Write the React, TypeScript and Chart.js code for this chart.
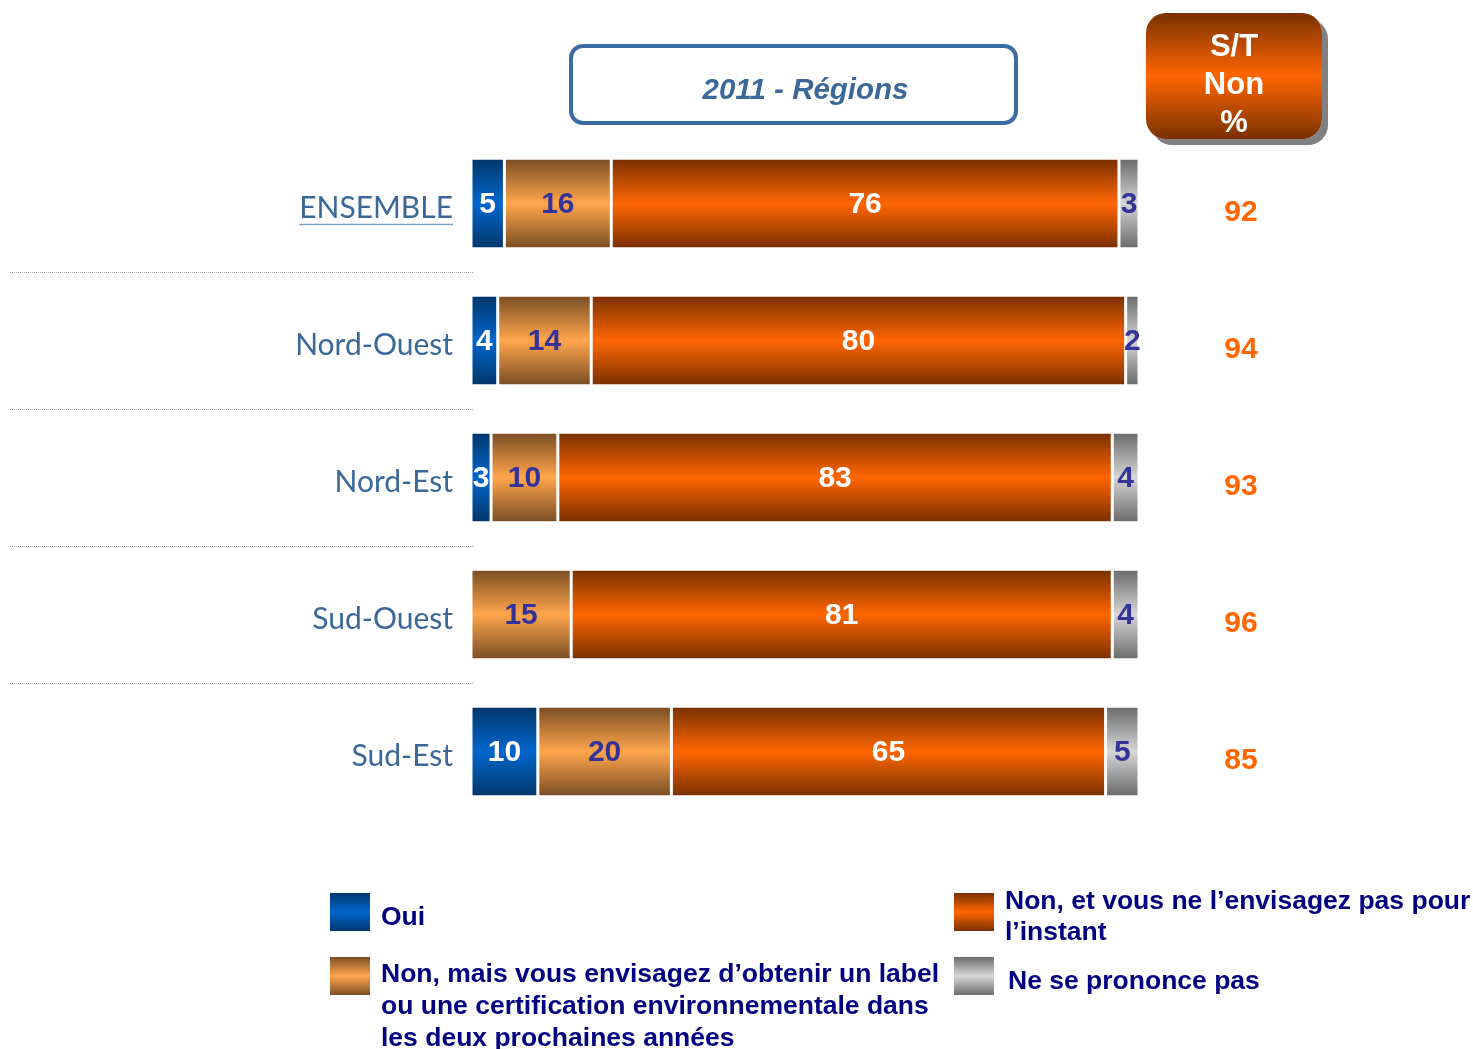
import React, { useEffect, useRef } from "react";
import { Chart, registerables } from "chart.js";

Chart.register(...registerables);

const categories = ["ENSEMBLE", "Nord-Ouest", "Nord-Est", "Sud-Ouest", "Sud-Est"];
const ouiValues = [5, 4, 3, 0, 10];
const nonEnvisageValues = [16, 14, 10, 15, 20];
const nonPasValues = [76, 80, 83, 81, 65];
const nspValues = [3, 2, 4, 4, 5];
const stNonValues = [92, 94, 93, 96, 85];
const seriesLabels = [
  "Oui",
  "Non, mais vous envisagez d’obtenir un label ou une certification environnementale dans les deux prochaines années",
  "Non, et vous ne l’envisagez pas pour l’instant",
  "Ne se prononce pas",
];
const legendLines = [
  ["Oui"],
  ["Non, mais vous envisagez d’obtenir un label", "ou une certification environnementale dans", "les deux prochaines années"],
  ["Non, et vous ne l’envisagez pas pour", "l’instant"],
  ["Ne se prononce pas"],
];
const titleText = "2011 - Régions";
const stHeader = ["S/T", "Non", "%"];

const gradients = [
  ["#00376c", "#0066cc", "#00376c"],
  ["#7b4e24", "#ffa64d", "#7b4e24"],
  ["#7a3000", "#ff6600", "#7a3000"],
  ["#6c6c6c", "#d6d6d6", "#6c6c6c"],
];
const labelColors = ["#ffffff", "#333399", "#ffffff", "#333399"];
const ARIAL = '"Liberation Sans", Arial, sans-serif';
const BAR_HALF = 44;
const TICK_PAD = 10;
const LABEL_OFFSET = 5;

function makeBg(idx: number) {
  return (c: any) => {
    const chart = c.chart;
    const ys = chart.scales && chart.scales.y;
    const g3 = gradients[idx];
    if (!ys || c.dataIndex === undefined || !chart.chartArea) return g3[1];
    const yc = ys.getPixelForValue(c.dataIndex);
    const g = chart.ctx.createLinearGradient(0, yc - BAR_HALF, 0, yc + BAR_HALF);
    g.addColorStop(0, g3[0]);
    g.addColorStop(0.5, g3[1]);
    g.addColorStop(1, g3[2]);
    return g;
  };
}

const overlayPlugin = {
  id: "overlay",
  beforeDatasetsDraw(chart: any) {
    const { ctx } = chart;
    const ys = chart.scales.y;
    ctx.save();
    ctx.strokeStyle = "#a8a8a8";
    ctx.lineWidth = 1;
    ctx.setLineDash([1, 1]);
    for (let i = 0; i < categories.length - 1; i++) {
      const y = Math.round((ys.getPixelForValue(i) + ys.getPixelForValue(i + 1)) / 2) + 0.5;
      ctx.beginPath();
      ctx.moveTo(10, y);
      ctx.lineTo(chart.chartArea.left + 2, y);
      ctx.stroke();
    }
    ctx.restore();
  },
  afterDatasetsDraw(chart: any) {
    const { ctx } = chart;
    const ys = chart.scales.y;
    ctx.save();
    ctx.font = `bold 30px ${ARIAL}`;
    ctx.textAlign = "center";
    ctx.textBaseline = "middle";
    chart.data.datasets.forEach((ds: any, di: number) => {
      const meta = chart.getDatasetMeta(di);
      meta.data.forEach((el: any, i: number) => {
        const v = ds.data[i];
        if (!v) return;
        ctx.fillStyle = labelColors[di];
        ctx.fillText(String(v), (el.x + el.base) / 2, el.y + 1);
      });
    });
    ctx.fillStyle = "#ff6600";
    stNonValues.forEach((v, i) => {
      ctx.fillText(String(v), 1241, ys.getPixelForValue(i) + 9);
    });
    ctx.restore();
  },
  afterDraw(chart: any) {
    const { ctx } = chart;
    const ys = chart.scales.y;
    const item = ys.getLabelItems ? ys.getLabelItems()[0] : null;
    ctx.save();
    ctx.font = "30px Lato";
    const w = ctx.measureText(categories[0]).width;
    const right = item ? item.options.translation[0] : ys.right - TICK_PAD;
    const cy = item ? item.options.translation[1] : ys.getPixelForValue(0) + LABEL_OFFSET;
    const uy = Math.round(cy + 15) + 0.5;
    ctx.strokeStyle = "#7f9fc4";
    ctx.lineWidth = 1.5;
    ctx.beginPath();
    ctx.moveTo(right - w, uy);
    ctx.lineTo(right, uy);
    ctx.stroke();
    ctx.restore();
  },
};

export default function App() {
  const ref = useRef<HTMLCanvasElement | null>(null);
  useEffect(() => {
    if (!ref.current) return;
    const values = [ouiValues, nonEnvisageValues, nonPasValues, nspValues];
    const chart = new Chart(ref.current, {
      type: "bar",
      data: {
        labels: categories,
        datasets: values.map((d, i) => ({
          label: seriesLabels[i],
          data: d,
          backgroundColor: makeBg(i),
          borderColor: "#ffffff",
          borderWidth: { left: 1.5, right: 1.5, top: 0, bottom: 0 },
          borderSkipped: false,
          categoryPercentage: 1,
          barPercentage: 0.642,
        })),
      },
      options: {
        indexAxis: "y",
        responsive: false,
        animation: false,
        devicePixelRatio: 1,
        layout: { padding: { top: 135, bottom: 229, left: 0, right: 334 } },
        plugins: { legend: { display: false }, tooltip: { enabled: false } },
        scales: {
          x: { stacked: true, min: 0, max: 100, display: false },
          y: {
            stacked: true,
            grid: { display: false },
            border: { display: false },
            afterFit: (s: any) => {
              s.width = 471;
            },
            ticks: {
              font: { family: "Lato", size: 30 },
              color: "#3a6898",
              padding: TICK_PAD,
              labelOffset: LABEL_OFFSET,
            },
          },
        },
      } as any,
      plugins: [overlayPlugin],
    });
    return () => chart.destroy();
  }, []);

  const swatch = (i: number) =>
    `linear-gradient(to bottom, ${gradients[i][0]}, ${gradients[i][1]} 50%, ${gradients[i][2]})`;

  const legendPos = [
    { sx: 330, sy: 893, tx: 381, ty: 900, lh: 32 },
    { sx: 330, sy: 957, tx: 381, ty: 957, lh: 32 },
    { sx: 954, sy: 893, tx: 1005, ty: 885, lh: 31 },
    { sx: 954, sy: 957, tx: 1008, ty: 964, lh: 32 },
  ];

  return (
    <div style={{ position: "absolute", left: 0, top: 0, width: 1473, height: 1049, overflow: "hidden", background: "#fff" }}>
      <canvas ref={ref} width={1473} height={1049} style={{ position: "absolute", left: 0, top: 0 }} />
      <div
        style={{
          position: "absolute",
          left: 569,
          top: 44,
          width: 449,
          height: 81,
          boxSizing: "border-box",
          border: "4px solid #3a6ca3",
          borderRadius: 14,
          display: "flex",
          alignItems: "center",
          justifyContent: "center",
          paddingTop: 8,
          paddingLeft: 24,
          font: `italic bold 29.5px ${ARIAL}`,
          color: "#3a6898",
        }}
      >
        {titleText}
      </div>
      <div
        style={{
          position: "absolute",
          left: 1146,
          top: 13,
          width: 176,
          height: 126,
          boxSizing: "border-box",
          borderRadius: 20,
          background: "linear-gradient(to bottom, #7a3000, #ff6600 50%, #7a3000)",
          boxShadow: "6px 6px 0 #808080",
          paddingTop: 14,
          textAlign: "center",
          font: `bold 31px ${ARIAL}`,
          lineHeight: "38px",
          color: "#ffffff",
        }}
      >
        {stHeader.map((t) => (
          <div key={t}>{t}</div>
        ))}
      </div>
      {legendPos.map((p, i) => (
        <React.Fragment key={i}>
          <div style={{ position: "absolute", left: p.sx, top: p.sy, width: 40, height: 38, background: swatch(i) }} />
          <div
            style={{
              position: "absolute",
              left: p.tx,
              top: p.ty,
              font: `bold 26.5px ${ARIAL}`,
              lineHeight: `${p.lh}px`,
              color: "#000080",
              whiteSpace: "nowrap",
            }}
          >
            {legendLines[i].map((l, k) => (
              <div key={k}>{l}</div>
            ))}
          </div>
        </React.Fragment>
      ))}
    </div>
  );
}
